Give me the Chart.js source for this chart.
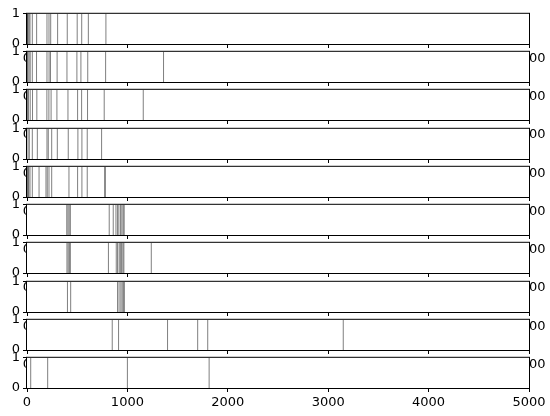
<!DOCTYPE html>
<html>
<head>
<meta charset="utf-8">
<script src="https://cdn.jsdelivr.net/npm/chart.js@4.4.0/dist/chart.umd.min.js"></script>
<style>
  html, body { margin: 0; padding: 0; background: #fff; }
  #fig { position: relative; width: 550px; height: 416px; overflow: hidden; }
  #fig canvas { position: absolute; left: 0; }
</style>
</head>
<body>
<div id="fig"></div>
<script>
// Event times for each stacked panel (top to bottom)
const events1 = [0, 4, 10, 20, 30, 53, 96, 199, 219, 236, 305, 401, 500, 545, 611, 786];
const events2 = [2, 8, 20, 32, 53, 95, 199, 220, 234, 300, 398, 497, 537, 605, 783, 1360];
const events3 = [5, 15, 32, 55, 98, 198, 218, 240, 298, 408, 504, 544, 603, 769, 1158];
const events4 = [10, 23, 53, 103, 199, 212, 246, 302, 411, 507, 547, 600, 743];
const events5 = [3, 10, 17, 30, 53, 120, 189, 202, 219, 246, 418, 504, 547, 600, 775, 779];
const events6 = [396, 408, 420, 432, 819, 859, 886, 902, 915, 932, 945, 958, 968];
const events7 = [398, 410, 422, 432, 811, 889, 902, 918, 930, 942, 955, 965, 1238];
const events8 = [403, 435, 902, 917, 935, 948, 960, 970];
const events9 = [849, 912, 1400, 1700, 1800, 3150];
const events10 = [37, 206, 1000, 1814];

const panels = [events1, events2, events3, events4, events5, events6, events7, events8, events9, events10];

const xMin = 0, xMax = 5000, xStep = 1000;
const yMin = 0, yMax = 1;

// layout of the panels inside the figure
const firstTop = 13;
const panelStep = 38.22;
const panelHeight = 31;
const padTop = 10;
const xAxisHeight = 25;

// white axes background + black frame, like matplotlib axes patch/spines
const axesFrame = {
  id: 'axesFrame',
  beforeDraw(chart) {
    const { ctx, chartArea: a } = chart;
    ctx.save();
    ctx.fillStyle = '#fff';
    ctx.fillRect(a.left, a.top, a.right - a.left, a.bottom - a.top);
    ctx.restore();
  },
  afterDraw(chart) {
    const { ctx, chartArea: a } = chart;
    ctx.save();
    ctx.strokeStyle = '#000';
    ctx.lineWidth = 1;
    ctx.strokeRect(a.left - 0.5, a.top - 0.5, a.right - a.left + 1, a.bottom - a.top + 1);
    ctx.restore();
  }
};

// turn event times into vertical segments from y=0 to y=1
function toSegments(times) {
  const pts = [];
  times.forEach((t) => {
    pts.push({ x: t, y: yMin }, { x: t, y: yMax }, { x: t, y: null });
  });
  return pts;
}

const fig = document.getElementById('fig');
const tickFont = { family: 'DejaVu Sans', size: 13 };
const plainLabel = (v) => String(v);

panels.forEach((times, i) => {
  const top = Math.round(firstTop + panelStep * i);
  const canvas = document.createElement('canvas');
  canvas.width = 550;
  canvas.height = padTop + panelHeight + xAxisHeight;
  canvas.style.top = (top - padTop) + 'px';
  fig.appendChild(canvas);

  new Chart(canvas.getContext('2d'), {
    type: 'scatter',
    data: {
      datasets: [{
        data: toSegments(times),
        showLine: true,
        spanGaps: false,
        borderColor: 'rgba(0,0,0,0.5)',
        borderWidth: 1,
        pointRadius: 0
      }]
    },
    options: {
      responsive: false,
      animation: false,
      devicePixelRatio: 1,
      layout: { padding: { top: padTop, right: 21, left: 0, bottom: 0 } },
      plugins: { legend: { display: false }, tooltip: { enabled: false } },
      scales: {
        x: {
          type: 'linear',
          min: xMin,
          max: xMax,
          afterFit(scale) { scale.height = xAxisHeight; },
          border: { display: false },
          grid: { drawOnChartArea: false, drawTicks: true, tickLength: 4, tickColor: '#000', tickWidth: 1 },
          ticks: { stepSize: xStep, color: '#000', font: tickFont, padding: 3, maxRotation: 0, callback: plainLabel }
        },
        y: {
          min: yMin,
          max: yMax,
          afterFit(scale) { scale.width = 27; },
          border: { display: false },
          grid: { drawOnChartArea: false, drawTicks: true, tickLength: 4, tickColor: '#000', tickWidth: 1 },
          ticks: { stepSize: 1, color: '#000', font: tickFont, padding: 3, callback: plainLabel }
        }
      }
    },
    plugins: [axesFrame]
  });
});
</script>
</body>
</html>
